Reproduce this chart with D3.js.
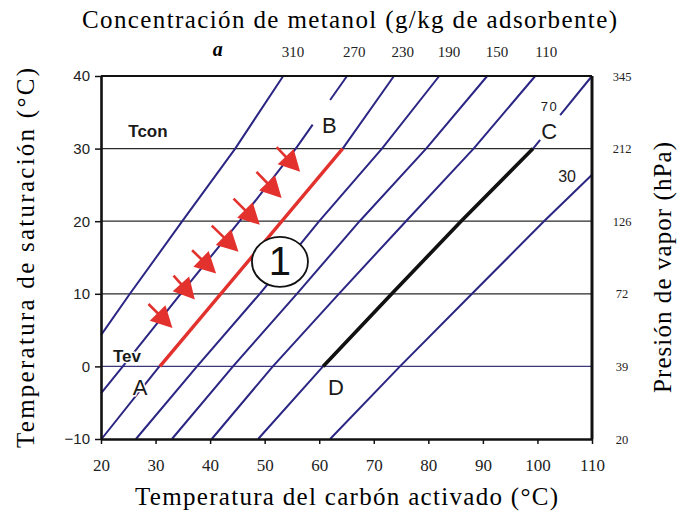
<!DOCTYPE html>
<html>
<head>
	<meta charset="utf-8">
	<title>Diagrama de Clapeyron</title>
	<style type="text/css">
		body {
			margin: 0;
			background: white;
		}
		svg {
			display: block;
		}
		.serif {
			font-family: 'Liberation Serif', 'Times New Roman', serif;
		}
		.sans {
			font-family: 'Liberation Sans', Arial, sans-serif;
		}
	</style>
	<script src="https://d3js.org/d3.v7.min.js"></script>
</head>
<body>
	<svg width="692" height="516"></svg>
	<script type="text/javascript">
		// ticks
		const xTicks = [20, 30, 40, 50, 60, 70, 80, 90, 100, 110];
		const yTicks = [-10, 0, 10, 20, 30, 40];
		const pressureLabels = ['20', '39', '72', '126', '212', '345'];
		const topLabels = ['310', '270', '230', '190', '150', '110'];
		const topLabelX = [55.2, 66.4, 75.3, 83.8, 92.6, 101.6];

		// isosteres, [T carbon, T sat], one per concentration (g/kg)
		const iso310 = [[20, 4.3], [25.3, 10], [34.9, 20], [44.6, 30], [53.4, 40]];
		const iso270 = [[20, -3.7], [24, 0], [34.6, 10], [45.4, 20], [55.7, 30], [65.1, 40]];
		const iso230 = [[20.1, -10], [30.7, 0], [42, 10], [53.2, 20], [64.3, 30], [73.7, 40]];
		const iso190 = [[26.4, -10], [37.6, 0], [49.1, 10], [60, 20], [71.5, 30], [82, 40]];
		const iso150 = [[33, -10], [44.2, 0], [55.9, 10], [67.4, 20], [79.6, 30], [90.8, 40]];
		const iso110 = [[40.3, -10], [51.5, 0], [63.6, 10], [75.9, 20], [88.3, 30], [99.6, 40]];
		const iso70 = [[48.8, -10], [60.7, 0], [73.3, 10], [86, 20], [99.2, 30], [110, 40]];
		const iso30 = [[62, -10], [74.8, 0], [88, 10], [101.2, 20], [110, 26.4]];
		const isosteres = [iso310, iso270, iso230, iso190, iso150, iso110, iso70, iso30];

		// breaks in the lines next to the B and C labels (T sat range)
		const lineGaps = [[1, 33.3, 36.7], [6, 31.2, 34.6]];

		// cycle
		const cycleAB = [[30.8, 0], [64.3, 30]];
		const cycleCD = [[60.7, 0], [73.3, 10], [86, 20], [99.2, 30]];
		const arrowTail = [[52.2, 30.2], [48.5, 26.8], [44.3, 23.1], [40.3, 19.4], [36.7, 16], [33.3, 12.5], [28.7, 8.6]];
		const arrowTip = [[56.5, 26.8], [53.1, 23.2], [49.1, 19.5], [45.2, 15.8], [41.1, 12.8], [37.2, 9.2], [33.1, 5.3]];

		var svgCanvas = d3.select('svg');

		var x = d3.scaleLinear().domain([20, 110]).range([101, 592]);
		var y = d3.scaleLinear().domain([-10, 40]).range([439, 76]);

		var lineGenerator = d3.line()
			.x((d) => x(d[0]))
			.y((d) => y(d[1]));

		//horizontal grid lines
		svgCanvas.selectAll('.grid')
			.data([0, 10, 20, 30])
			.enter()
			.append('line')
			.attr('class', 'grid')
			.attr('x1', x(20))
			.attr('x2', x(110))
			.attr('y1', (d) => y(d))
			.attr('y2', (d) => y(d))
			.attr('stroke', (d) => d == 0 ? '#3a3680' : '#2a2a2a')
			.attr('stroke-width', 1.3);

		function xAtY(pts, yv) {
			for (var i = 0; i < pts.length - 1; i++) {
				var a = pts[i], b = pts[i + 1];
				if (yv >= a[1] && yv <= b[1]) {
					return a[0] + (b[0] - a[0]) * (yv - a[1]) / (b[1] - a[1]);
				}
			}
			return pts[pts.length - 1][0];
		}

		//split isosteres where a label sits on them
		var segments = [];
		isosteres.forEach((pts, i) => {
			var gap = lineGaps.find((g) => g[0] == i);
			if (!gap) {
				segments.push(pts);
				return;
			}
			var lower = pts.filter((p) => p[1] < gap[1]).concat([[xAtY(pts, gap[1]), gap[1]]]);
			var upper = [[xAtY(pts, gap[2]), gap[2]]].concat(pts.filter((p) => p[1] > gap[2]));
			segments.push(lower, upper);
		});

		svgCanvas.selectAll('.iso')
			.data(segments)
			.enter()
			.append('path')
			.attr('class', 'iso')
			.attr('d', (d) => lineGenerator(d))
			.attr('fill', 'none')
			.attr('stroke', '#2b2683')
			.attr('stroke-width', 2)
			.attr('stroke-linejoin', 'round');

		svgCanvas.append('path')
			.attr('d', lineGenerator(cycleCD))
			.attr('fill', 'none')
			.attr('stroke', '#111')
			.attr('stroke-width', 3.6)
			.attr('stroke-linejoin', 'round');

		svgCanvas.append('path')
			.attr('d', lineGenerator(cycleAB))
			.attr('fill', 'none')
			.attr('stroke', '#e3312d')
			.attr('stroke-width', 3.4);

		//arrows towards the red line
		const headLen = 21, headHalf = 11;
		arrowTail.forEach((t, i) => {
			var x0 = x(t[0]), y0 = y(t[1]);
			var x1 = x(arrowTip[i][0]), y1 = y(arrowTip[i][1]);
			var len = Math.hypot(x1 - x0, y1 - y0);
			var ux = (x1 - x0) / len, uy = (y1 - y0) / len;
			var bx = x1 - ux * headLen, by = y1 - uy * headLen;

			svgCanvas.append('line')
				.attr('x1', x0).attr('y1', y0)
				.attr('x2', bx + ux * 2).attr('y2', by + uy * 2)
				.attr('stroke', '#e3312d')
				.attr('stroke-width', 2.6);

			svgCanvas.append('path')
				.attr('d', 'M' + x1 + ',' + y1 +
					'L' + (bx - uy * headHalf) + ',' + (by + ux * headHalf) +
					'L' + (bx + uy * headHalf) + ',' + (by - ux * headHalf) + 'Z')
				.attr('fill', '#e3312d');
		});

		//frame
		svgCanvas.append('line')
			.attr('x1', x(20)).attr('x2', x(110))
			.attr('y1', y(40)).attr('y2', y(40))
			.attr('stroke', '#111').attr('stroke-width', 2);
		svgCanvas.append('line')
			.attr('x1', x(110)).attr('x2', x(110))
			.attr('y1', y(40)).attr('y2', y(-10))
			.attr('stroke', '#111').attr('stroke-width', 3);

		var leftAxis = svgCanvas.append('g')
			.attr('transform', 'translate(' + x(20) + ',0)')
			.call(d3.axisLeft(y).tickValues(yTicks).tickSize(6).tickSizeOuter(0).tickPadding(5));
		leftAxis.selectAll('text')
			.attr('class', 'sans')
			.attr('font-size', 15)
			.attr('fill', '#222');

		var bottomAxis = svgCanvas.append('g')
			.attr('transform', 'translate(0,' + y(-10) + ')')
			.call(d3.axisBottom(x).tickValues(xTicks).tickSize(5).tickSizeOuter(0).tickPadding(15));
		bottomAxis.selectAll('text')
			.attr('class', 'serif')
			.attr('font-size', 17)
			.attr('fill', '#222');

		[leftAxis, bottomAxis].forEach((g) => {
			g.select('.domain').attr('stroke', '#111').attr('stroke-width', 2.6);
			g.selectAll('.tick line').attr('stroke', '#111').attr('stroke-width', 1.5);
		});

		var rightAxis = svgCanvas.append('g')
			.attr('transform', 'translate(' + x(110) + ',0)')
			.call(d3.axisRight(y).tickValues(yTicks).tickSize(0).tickPadding(30)
				.tickFormat((d, i) => pressureLabels[i]));
		rightAxis.select('.domain').remove();
		rightAxis.selectAll('text')
			.attr('class', 'serif')
			.attr('text-anchor', 'middle')
			.attr('font-size', 12.5)
			.attr('fill', '#222');

		//concentration labels along the top
		svgCanvas.selectAll('.topLab')
			.data(topLabels)
			.enter()
			.append('text')
			.attr('class', 'serif topLab')
			.attr('x', (d, i) => x(topLabelX[i]))
			.attr('y', 57)
			.attr('text-anchor', 'middle')
			.attr('font-size', 15)
			.attr('fill', '#222')
			.text((d) => d);

		svgCanvas.append('text')
			.attr('class', 'serif')
			.attr('x', x(41.4))
			.attr('y', 56)
			.attr('text-anchor', 'middle')
			.attr('font-size', 20)
			.attr('font-weight', 'bold')
			.attr('font-style', 'italic')
			.text('a');

		//axis titles
		svgCanvas.append('text')
			.attr('class', 'serif')
			.attr('x', 349.5).attr('y', 28)
			.attr('text-anchor', 'middle')
			.attr('font-size', 25)
			.attr('textLength', 535)
			.attr('lengthAdjust', 'spacing')
			.text('Concentración de metanol (g/kg de adsorbente)');

		svgCanvas.append('text')
			.attr('class', 'serif')
			.attr('x', 346.5).attr('y', 505)
			.attr('text-anchor', 'middle')
			.attr('font-size', 25)
			.attr('textLength', 423)
			.attr('lengthAdjust', 'spacing')
			.text('Temperatura del carbón activado (°C)');

		svgCanvas.append('text')
			.attr('class', 'serif')
			.attr('transform', 'translate(34,258) rotate(-90)')
			.attr('text-anchor', 'middle')
			.attr('font-size', 25)
			.attr('textLength', 380)
			.attr('lengthAdjust', 'spacing')
			.text('Temperatura de saturación (°C)');

		svgCanvas.append('text')
			.attr('class', 'serif')
			.attr('transform', 'translate(671,267.5) rotate(-90)')
			.attr('text-anchor', 'middle')
			.attr('font-size', 25)
			.attr('textLength', 251)
			.attr('lengthAdjust', 'spacing')
			.text('Presión de vapor (hPa)');

		//point labels
		const noteText = ['Tcon', 'Tev', 'A', 'B', 'C', 'D', '70', '30'];
		const notePos = [[25, 31.6], [22.2, 0.65], [25.8, -3.9], [60.5, 32.1], [100.7, 31.3], [61.6, -3.9], [100.6, 35.2], [103.8, 25.4]];
		const noteSize = [17, 17, 22, 22, 22, 22, 13, 16];

		svgCanvas.selectAll('.note')
			.data(noteText)
			.enter()
			.append('text')
			.attr('class', 'sans note')
			.attr('x', (d, i) => x(notePos[i][0]))
			.attr('y', (d, i) => y(notePos[i][1]))
			.attr('font-size', (d, i) => noteSize[i])
			.attr('font-weight', (d) => d[0] == 'T' ? 'bold' : 'normal')
			.attr('letter-spacing', (d) => d == '70' ? 1.5 : 0)
			.attr('fill', '#1a1a1a')
			.attr('stroke', 'white')
			.attr('stroke-width', (d) => (d == 'A' || d == 'Tev') ? 3 : 0)
			.attr('paint-order', 'stroke')
			.text((d) => d);

		//stage 1 marker
		svgCanvas.append('ellipse')
			.attr('cx', x(52.8))
			.attr('cy', y(14.4))
			.attr('rx', 28)
			.attr('ry', 25)
			.attr('fill', 'white')
			.attr('stroke', '#111')
			.attr('stroke-width', 1.8);

		svgCanvas.append('text')
			.attr('class', 'sans')
			.attr('x', x(52.8))
			.attr('y', y(12.6))
			.attr('text-anchor', 'middle')
			.attr('font-size', 40)
			.attr('fill', '#111')
			.text('1');
	</script>
</body>
</html>
